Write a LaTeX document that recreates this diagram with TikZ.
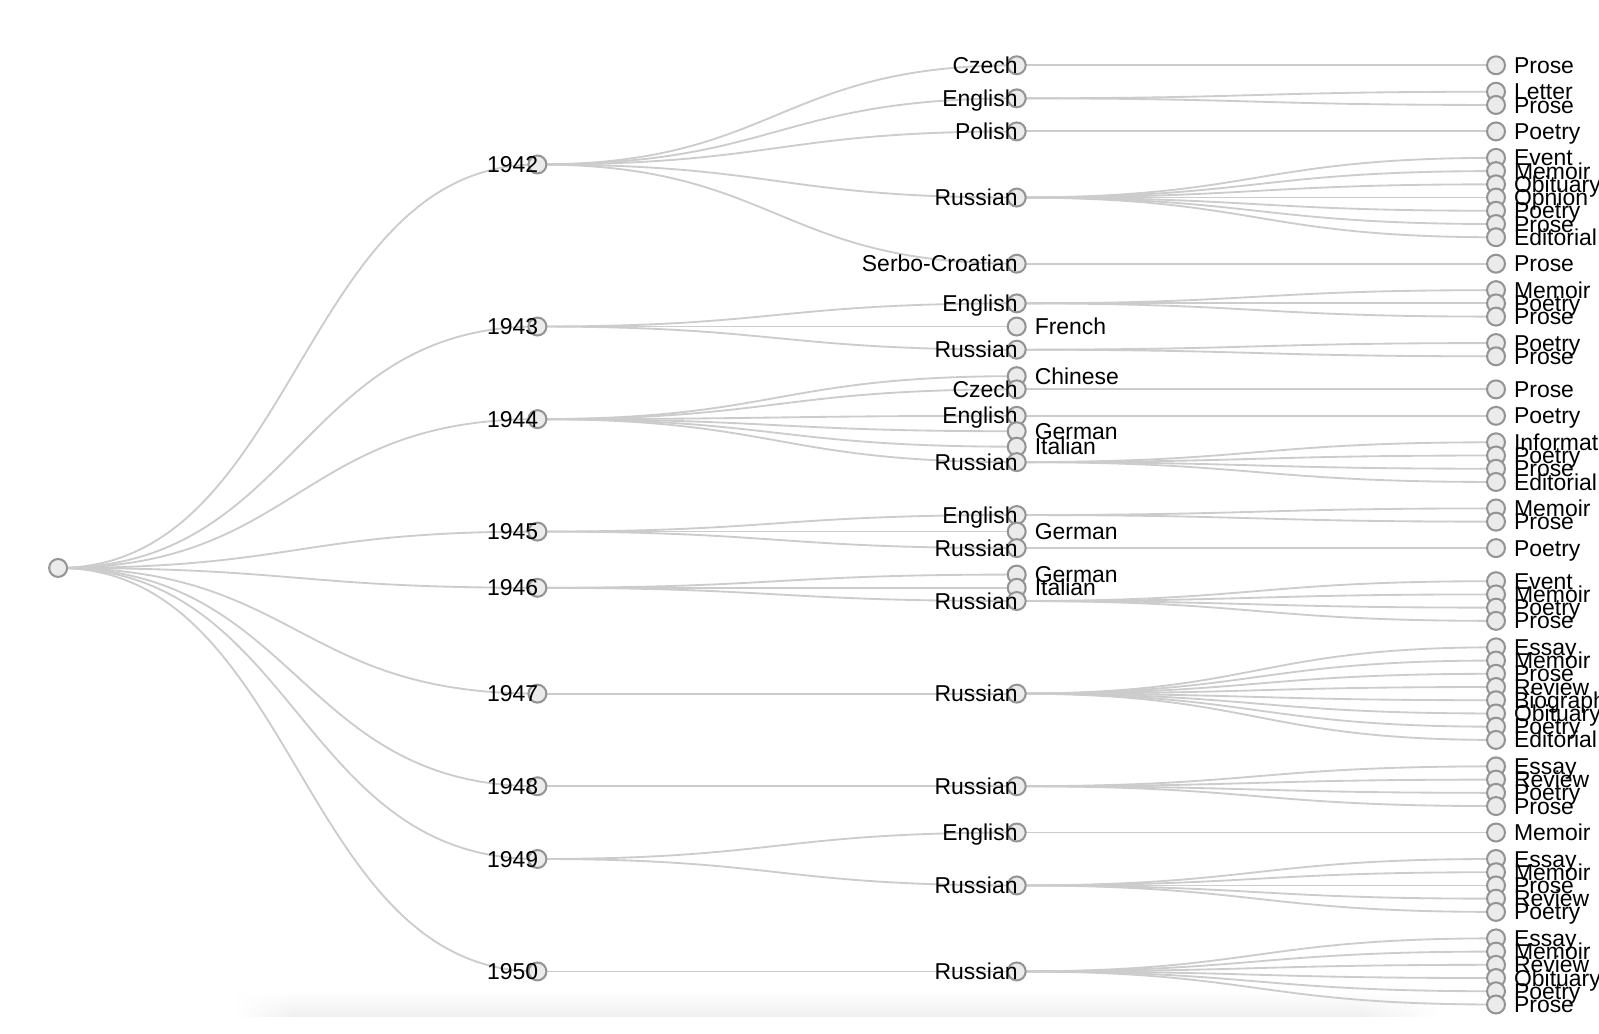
\documentclass[tikz,border=0pt]{standalone}
\usepackage{fontspec}
\setmainfont{Liberation Sans}
\usetikzlibrary{fadings}
\pgfdeclarelayer{bg}
\pgfsetlayers{bg,main}
\tikzset{
  dot/.style={circle, draw=black!42, fill=black!8, line width=2pt, minimum size=17.6pt, inner sep=0pt},
  inlab/.style={anchor=base east, inner sep=0pt, font=\fontsize{22.5}{26}\selectfont, text=black},
  leaflab/.style={anchor=base west, inner sep=0pt, font=\fontsize{22.5}{26}\selectfont, text=black},
  link/.style={draw=black!20, line width=1.8pt},
  band/.style={top color=white, bottom color=black!6}
}
\newcommand\mkin[4]{\node[dot] (#1) at (#2,#3) {};\node[inlab] (#1-t) at ([xshift=1pt,yshift=-7.9pt]#1.center) {#4};}
\newcommand\mkleaf[4]{\node[dot] (#1) at (#2,#3) {};\node[leaflab] (#1-t) at ([xshift=17.5pt,yshift=-7.9pt]#1.center) {#4};}
\newcommand\mklink[2]{\draw[link] (#1.center) .. controls ([xshift=235pt]#1.center) and ([xshift=-235pt]#2.center) .. (#2.center);}
\begin{document}
\begin{tikzpicture}[x=1pt, y=-12.972pt]
\useasboundingbox (0,-4.9337) rectangle (1568,73.157);
\clip (0,-4.9337) rectangle (1568,73.157);
\begin{pgfonlayer}{bg}
\fill[white] (0,-4.9337) rectangle (1568,73.157);
\shade[band, path fading=west] (232,70.0) rectangle (292,71.88);
\shade[band] (291.5,70.0) rectangle (1330.5,71.88);
\shade[band, path fading=east] (1330,70.0) rectangle (1410,71.88);
\end{pgfonlayer}
% root
\node[dot] (r) at (57,38) {};
% years
\mkin{y42}{527}{7.5}{1942}
\mkin{y43}{527}{19.75}{1943}
\mkin{y44}{527}{26.75}{1944}
\mkin{y45}{527}{35.25}{1945}
\mkin{y46}{527}{39.5}{1946}
\mkin{y47}{527}{47.5}{1947}
\mkin{y48}{527}{54.5}{1948}
\mkin{y49}{527}{60}{1949}
\mkin{y50}{527}{68.5}{1950}
% languages
\mkin{a1}{997}{0}{Czech}
\mkin{a2}{997}{2.5}{English}
\mkin{a3}{997}{5}{Polish}
\mkin{a4}{997}{10}{Russian}
\mkin{a5}{997}{15}{Serbo-Croatian}
\mkin{b1}{997}{18}{English}
\mkleaf{b2}{997}{19.75}{French}
\mkin{b3}{997}{21.5}{Russian}
\mkleaf{c1}{997}{23.5}{Chinese}
\mkin{c2}{997}{24.5}{Czech}
\mkin{c3}{997}{26.5}{English}
\mkleaf{c4}{997}{27.6667}{German}
\mkleaf{c5}{997}{28.8333}{Italian}
\mkin{c6}{997}{30}{Russian}
\mkin{d1}{997}{34}{English}
\mkleaf{d2}{997}{35.25}{German}
\mkin{d3}{997}{36.5}{Russian}
\mkleaf{e1}{997}{38.5}{German}
\mkleaf{e2}{997}{39.5}{Italian}
\mkin{e3}{997}{40.5}{Russian}
\mkin{f1}{997}{47.5}{Russian}
\mkin{g1}{997}{54.5}{Russian}
\mkin{h1}{997}{58}{English}
\mkin{h2}{997}{62}{Russian}
\mkin{i1}{997}{68.5}{Russian}
% genres
\mkleaf{a1a}{1467}{0}{Prose}
\mkleaf{a2a}{1467}{2}{Letter}
\mkleaf{a2b}{1467}{3}{Prose}
\mkleaf{a3a}{1467}{5}{Poetry}
\mkleaf{a4a}{1467}{7}{Event}
\mkleaf{a4b}{1467}{8}{Memoir}
\mkleaf{a4c}{1467}{9}{Obituary}
\mkleaf{a4d}{1467}{10}{Opnion}
\mkleaf{a4e}{1467}{11}{Poetry}
\mkleaf{a4f}{1467}{12}{Prose}
\mkleaf{a4g}{1467}{13}{Editorial}
\mkleaf{a5a}{1467}{15}{Prose}
\mkleaf{b1a}{1467}{17}{Memoir}
\mkleaf{b1b}{1467}{18}{Poetry}
\mkleaf{b1c}{1467}{19}{Prose}
\mkleaf{b3a}{1467}{21}{Poetry}
\mkleaf{b3b}{1467}{22}{Prose}
\mkleaf{c2a}{1467}{24.5}{Prose}
\mkleaf{c3a}{1467}{26.5}{Poetry}
\mkleaf{c6a}{1467}{28.5}{Information}
\mkleaf{c6b}{1467}{29.5}{Poetry}
\mkleaf{c6c}{1467}{30.5}{Prose}
\mkleaf{c6d}{1467}{31.5}{Editorial}
\mkleaf{d1a}{1467}{33.5}{Memoir}
\mkleaf{d1b}{1467}{34.5}{Prose}
\mkleaf{d3a}{1467}{36.5}{Poetry}
\mkleaf{e3a}{1467}{39}{Event}
\mkleaf{e3b}{1467}{40}{Memoir}
\mkleaf{e3c}{1467}{41}{Poetry}
\mkleaf{e3d}{1467}{42}{Prose}
\mkleaf{f1a}{1467}{44}{Essay}
\mkleaf{f1b}{1467}{45}{Memoir}
\mkleaf{f1c}{1467}{46}{Prose}
\mkleaf{f1d}{1467}{47}{Review}
\mkleaf{f1e}{1467}{48}{Biography}
\mkleaf{f1f}{1467}{49}{Obituary}
\mkleaf{f1g}{1467}{50}{Poetry}
\mkleaf{f1h}{1467}{51}{Editorial}
\mkleaf{g1a}{1467}{53}{Essay}
\mkleaf{g1b}{1467}{54}{Review}
\mkleaf{g1c}{1467}{55}{Poetry}
\mkleaf{g1d}{1467}{56}{Prose}
\mkleaf{h1a}{1467}{58}{Memoir}
\mkleaf{h2a}{1467}{60}{Essay}
\mkleaf{h2b}{1467}{61}{Memoir}
\mkleaf{h2c}{1467}{62}{Prose}
\mkleaf{h2d}{1467}{63}{Review}
\mkleaf{h2e}{1467}{64}{Poetry}
\mkleaf{i1a}{1467}{66}{Essay}
\mkleaf{i1b}{1467}{67}{Memoir}
\mkleaf{i1c}{1467}{68}{Review}
\mkleaf{i1d}{1467}{69}{Obituary}
\mkleaf{i1e}{1467}{70}{Poetry}
\mkleaf{i1f}{1467}{71}{Prose}
\begin{pgfonlayer}{bg}
\foreach \t in {y42,y43,y44,y45,y46,y47,y48,y49,y50} {\mklink{r}{\t}}
\foreach \t in {a1,a2,a3,a4,a5} {\mklink{y42}{\t}}
\foreach \t in {b1,b2,b3} {\mklink{y43}{\t}}
\foreach \t in {c1,c2,c3,c4,c5,c6} {\mklink{y44}{\t}}
\foreach \t in {d1,d2,d3} {\mklink{y45}{\t}}
\foreach \t in {e1,e2,e3} {\mklink{y46}{\t}}
\mklink{y47}{f1}
\mklink{y48}{g1}
\mklink{y49}{h1}
\mklink{y49}{h2}
\mklink{y50}{i1}
\mklink{a1}{a1a}
\foreach \t in {a2a,a2b} {\mklink{a2}{\t}}
\mklink{a3}{a3a}
\foreach \t in {a4a,a4b,a4c,a4d,a4e,a4f,a4g} {\mklink{a4}{\t}}
\mklink{a5}{a5a}
\foreach \t in {b1a,b1b,b1c} {\mklink{b1}{\t}}
\foreach \t in {b3a,b3b} {\mklink{b3}{\t}}
\mklink{c2}{c2a}
\mklink{c3}{c3a}
\foreach \t in {c6a,c6b,c6c,c6d} {\mklink{c6}{\t}}
\foreach \t in {d1a,d1b} {\mklink{d1}{\t}}
\mklink{d3}{d3a}
\foreach \t in {e3a,e3b,e3c,e3d} {\mklink{e3}{\t}}
\foreach \t in {f1a,f1b,f1c,f1d,f1e,f1f,f1g,f1h} {\mklink{f1}{\t}}
\foreach \t in {g1a,g1b,g1c,g1d} {\mklink{g1}{\t}}
\mklink{h1}{h1a}
\foreach \t in {h2a,h2b,h2c,h2d,h2e} {\mklink{h2}{\t}}
\foreach \t in {i1a,i1b,i1c,i1d,i1e,i1f} {\mklink{i1}{\t}}
\end{pgfonlayer}
\end{tikzpicture}
\end{document}
